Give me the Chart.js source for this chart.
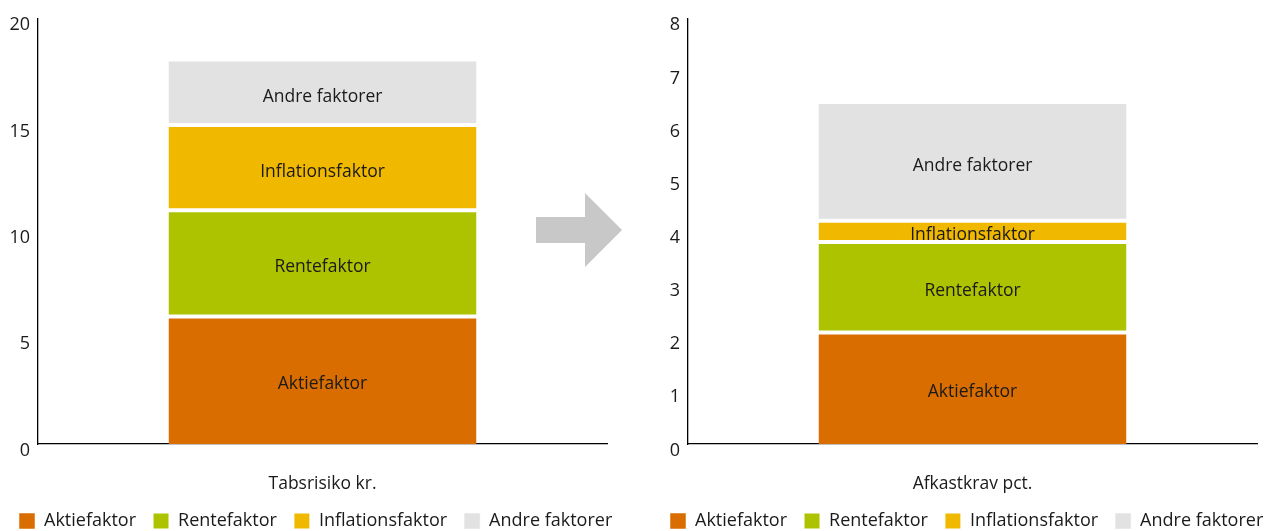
<!DOCTYPE html>
<html>
<head>
<meta charset="utf-8">
<script src="https://cdn.jsdelivr.net/npm/chart.js@4.4.1/dist/chart.umd.min.js"></script>
<style>
  html, body { margin: 0; padding: 0; background: #fff; overflow: hidden; }
  #wrap { position: relative; width: 1264px; height: 531px; overflow: hidden; }
  canvas { position: absolute; top: 0; }
  #c1 { left: 0; }
  #c2 { left: 632px; }
  #arrow { position: absolute; left: 0; top: 0; pointer-events: none; }
</style>
</head>
<body>
<div id="wrap">
  <canvas id="c1" width="632" height="531"></canvas>
  <canvas id="c2" width="660" height="531"></canvas>
  <svg id="arrow" width="1264" height="531">
    <polygon points="536,217 585,217 585,193 622,230 585,267 585,243 536,243" fill="#c8c8c8"/>
  </svg>
</div>
<script>
// ---- data ----
const factors = ['Aktiefaktor', 'Rentefaktor', 'Inflationsfaktor', 'Andre faktorer'];
const riskCategory = ['Tabsrisiko kr.'];
const returnCategory = ['Afkastkrav pct.'];
const riskValues = [6, 5, 4, 3];          // Tabsrisiko kr.
const returnValues = [2.1, 1.7, 0.4, 2.2]; // Afkastkrav pct.
const riskTicks = { max: 20, step: 5 };
const returnTicks = { max: 8, step: 1 };

// ---- styles ----
const factorColors = ['#d96d00', '#aec300', '#f0b900', '#e2e2e2'];
const FONT = '"Open Sans", "Liberation Sans", Arial, sans-serif';
const TXT = '#1a1a1a';

const barLabels = {
  id: 'barLabels',
  afterDatasetsDraw(chart) {
    const ctx = chart.ctx;
    ctx.save();
    ctx.font = '17.5px ' + FONT;
    ctx.fillStyle = TXT;
    ctx.textAlign = 'center';
    ctx.textBaseline = 'middle';
    chart.data.datasets.forEach((ds, i) => {
      const meta = chart.getDatasetMeta(i);
      meta.data.forEach(el => {
        const p = el.getProps(['x', 'y', 'base'], true);
        ctx.fillText(ds.label, p.x, (p.y + p.base) / 2 + 4);
      });
    });
    ctx.restore();
  }
};

function borderFor(i, n) {
  return { top: i < n - 1 ? 2 : 0, bottom: i > 0 ? 2 : 0, left: 0, right: 0 };
}

function makeChart(id, category, values, tickCfg, padLeft, rightSpace, yWidth) {
  const datasets = factors.map((f, i) => ({
    label: f,
    data: [values[i]],
    backgroundColor: factorColors[i],
    borderColor: '#ffffff',
    borderWidth: borderFor(i, factors.length),
    borderSkipped: false,
    categoryPercentage: 1,
    barPercentage: 0.5413
  }));
  return new Chart(document.getElementById(id), {
    type: 'bar',
    data: { labels: category, datasets },
    plugins: [barLabels],
    options: {
      responsive: false,
      animation: false,
      events: [],
      layout: { padding: { left: padLeft, right: 0, top: 18, bottom: -9 } },
      plugins: {
        tooltip: { enabled: false },
        legend: {
          position: 'bottom',
          align: 'start',
          labels: {
            boxWidth: 16,
            boxHeight: 16,
            padding: 17,
            color: TXT,
            font: { family: FONT, size: 18 }
          }
        }
      },
      scales: {
        x: {
          stacked: true,
          ticks: { display: false },
          grid: { display: false, drawTicks: false },
          border: { display: true, color: '#000', width: 1.3 },
          title: {
            display: true,
            text: category[0],
            color: TXT,
            font: { family: FONT, size: 17.5 },
            padding: { top: 0, bottom: 0 }
          },
          afterFit(s) { s.height = 51; }
        },
        y: {
          stacked: true,
          min: 0,
          max: tickCfg.max,
          ticks: {
            stepSize: tickCfg.step,
            color: TXT,
            padding: 8,
            labelOffset: 6.5,
            font: { family: FONT, size: 18 }
          },
          grid: { display: false, drawTicks: false },
          border: { display: true, color: '#000', width: 1.3 },
          afterFit(s) { s.width = yWidth; }
        },
        pad: {
          type: 'linear',
          axis: 'y',
          position: 'right',
          display: true,
          ticks: { display: false },
          grid: { display: false, drawTicks: false },
          border: { display: false },
          afterFit(s) { s.width = rightSpace; }
        }
      }
    }
  });
}

makeChart('c1', riskCategory, riskValues, riskTicks, 2, 25, 36);
makeChart('c2', returnCategory, returnValues, returnTicks, 21, 35, 35);
</script>
</body>
</html>
